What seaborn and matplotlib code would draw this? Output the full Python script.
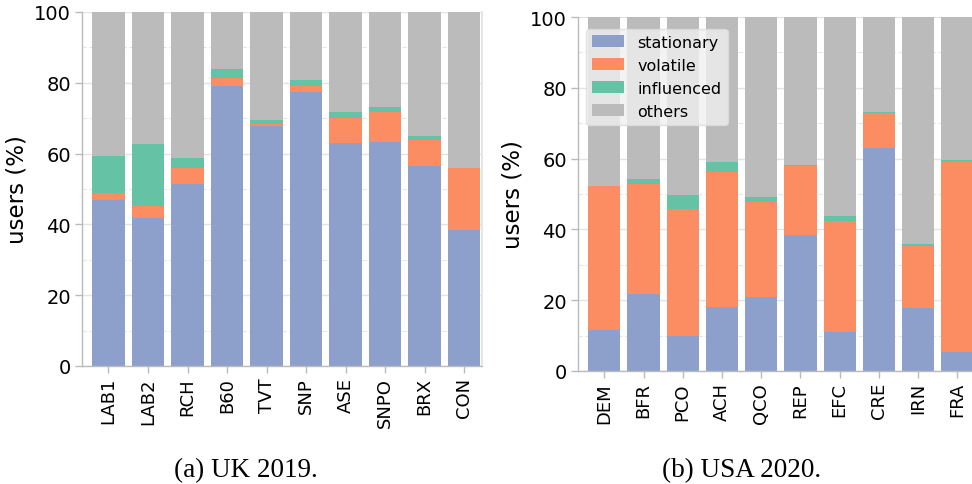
import matplotlib
matplotlib.use("Agg")
import matplotlib.pyplot as plt
import seaborn as sns
import pandas as pd
import numpy as np
from matplotlib.ticker import MultipleLocator

# ---- data ----
uk_parties = ["LAB1", "LAB2", "RCH", "B60", "TVT", "SNP", "ASE", "SNPO", "BRX", "CON"]
uk_stationary = [46.9, 41.8, 51.3, 79.0, 67.7, 77.5, 63.1, 63.3, 56.4, 38.3]
uk_volatile = [2.1, 3.3, 4.7, 2.4, 0.7, 1.5, 7.0, 8.5, 7.5, 17.7]
uk_influenced = [10.4, 17.7, 2.8, 2.6, 1.2, 1.9, 1.7, 1.5, 1.1, 0.0]

us_parties = ["DEM", "BFR", "PCO", "ACH", "QCO", "REP", "EFC", "CRE", "IRN", "FRA"]
us_stationary = [11.6, 21.8, 9.9, 18.2, 21.0, 38.5, 11.0, 63.1, 17.8, 5.4]
us_volatile = [40.7, 30.9, 36.0, 38.1, 26.6, 19.5, 31.5, 9.9, 17.5, 53.7]
us_influenced = [0.0, 1.5, 3.8, 2.8, 1.5, 0.3, 1.3, 0.2, 0.6, 0.6]

categories = ["stationary", "volatile", "influenced", "others"]
colors = {"stationary": "#8da0cb", "volatile": "#fc8d62",
          "influenced": "#66c2a5", "others": "#bbbbbb"}

sns.set_theme(style="white")
plt.rcParams["font.family"] = ["DejaVu Sans"]
plt.rcParams["text.color"] = "black"
plt.rcParams["axes.labelcolor"] = "black"

fig = plt.figure(figsize=(9.72, 4.85), dpi=100)
axL = fig.add_axes([82 / 972, (485 - 367) / 485, (482 - 82) / 972, (367 - 13) / 485])
axR = fig.add_axes([578 / 972, (485 - 372) / 485, (975 - 578) / 972, (372 - 18) / 485])


def draw(ax, parties, stat, vol, infl, legend):
    df = pd.DataFrame({"party": parties,
                       "stationary": stat, "volatile": vol, "influenced": infl})
    df["others"] = 100 - df["stationary"] - df["volatile"] - df["influenced"]
    bottom = np.zeros(len(df))
    for c in categories:
        sns.barplot(x=df["party"], y=df[c], bottom=bottom, color=colors[c],
                    width=0.82, ax=ax, label=c, saturation=1, linewidth=0)
        bottom = bottom + df[c].values
    ax.set_ylim(0, 100)
    ax.set_xlim(-0.67, 9.45)
    ax.yaxis.set_major_locator(MultipleLocator(20))
    ax.yaxis.set_minor_locator(MultipleLocator(10))
    ax.grid(axis="y", which="major", color="#e3e3e3", linewidth=1.0)
    ax.grid(axis="y", which="minor", color="#e6e6e6", linewidth=0.8, linestyle=(0, (4, 2)))
    ax.set_axisbelow(True)
    for s in ["left", "bottom"]:
        ax.spines[s].set_color("#bbbbbb")
        ax.spines[s].set_linewidth(1.0)
    ax.spines["right"].set_color("#e3e3e3")
    ax.spines["top"].set_visible(False)
    ax.tick_params(axis="both", which="major", direction="out", length=5, width=1,
                   color="#bbbbbb", labelcolor="black", labelsize=14, pad=3,
                   left=True, bottom=True)
    ax.tick_params(axis="x", labelrotation=90, labelsize=13)
    ax.set_xlabel("")
    ax.set_ylabel("users (%)", fontsize=16.5, color="black")
    if legend:
        leg = ax.legend(loc="upper left", fontsize=11.5, frameon=True,
                        facecolor="#f0f0f0", edgecolor="#dddddd",
                        handlelength=2.0, handleheight=0.8, handletextpad=0.8,
                        borderpad=0.4, labelspacing=0.5,
                        bbox_to_anchor=(0.0, 0.99))
        for t in leg.get_texts():
            t.set_color("black")
    else:
        if ax.get_legend() is not None:
            ax.get_legend().remove()


draw(axL, uk_parties, uk_stationary, uk_volatile, uk_influenced, False)
draw(axR, us_parties, us_stationary, us_volatile, us_influenced, True)

fig.text(246 / 972, 1 - 471 / 485, "(a) UK 2019.", ha="center", va="center",
         fontsize=19.5, family="Liberation Serif")
fig.text(742 / 972, 1 - 471 / 485, "(b) USA 2020.", ha="center", va="center",
         fontsize=19.5, family="Liberation Serif")

fig.savefig("out.png", dpi=100)
